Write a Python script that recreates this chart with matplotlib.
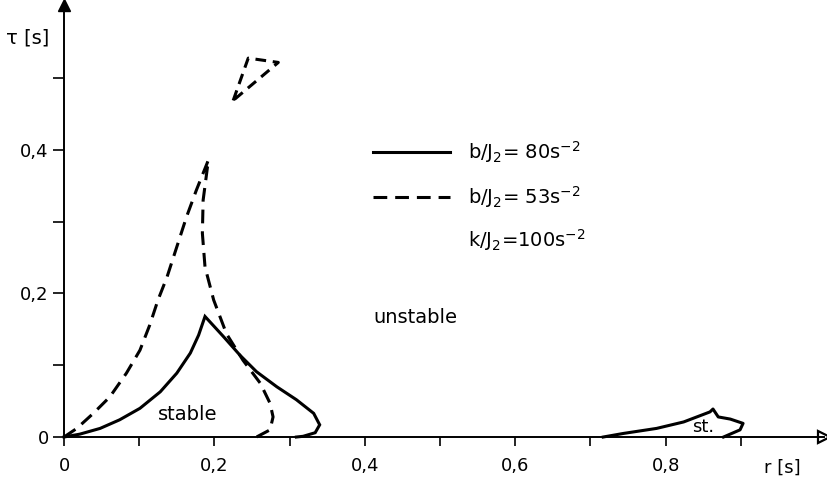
import matplotlib
matplotlib.use("Agg")
import matplotlib.pyplot as plt

# ---------- data ----------
# solid curve, b/J2 = 80 s^-2 (main stability lobe)
r_solid = [0.0, 0.021, 0.048, 0.074, 0.101, 0.128, 0.150, 0.168, 0.179,
           0.1875, 0.212, 0.234, 0.256, 0.283, 0.309, 0.332, 0.340,
           0.334, 0.318, 0.309]
tau_solid = [0.0, 0.004, 0.012, 0.024, 0.040, 0.063, 0.089, 0.117, 0.142,
             0.168, 0.140, 0.114, 0.091, 0.070, 0.052, 0.033, 0.017,
             0.006, 0.001, 0.0]

# dashed curve, b/J2 = 53 s^-2
r_dash = [0.0, 0.017, 0.039, 0.061, 0.083, 0.101, 0.114, 0.125, 0.137,
          0.150, 0.163, 0.176, 0.192,
          0.185, 0.184, 0.1875, 0.199, 0.216, 0.238, 0.261, 0.274,
          0.278, 0.274, 0.256]
tau_dash = [0.0, 0.012, 0.033, 0.056, 0.089, 0.121, 0.156, 0.191, 0.223,
            0.265, 0.307, 0.344, 0.386,
            0.330, 0.284, 0.237, 0.191, 0.144, 0.107, 0.075, 0.047,
            0.028, 0.010, 0.0]

# small dashed island at the top
r_island = [0.225, 0.245, 0.285, 0.225]
tau_island = [0.469, 0.528, 0.522, 0.469]

# second small stable lobe ("st.")
r_st = [0.717, 0.744, 0.788, 0.824, 0.859, 0.863, 0.870,
        0.886, 0.903, 0.899, 0.877]
tau_st = [0.0, 0.005, 0.012, 0.021, 0.035, 0.039, 0.028,
          0.025, 0.019, 0.010, 0.0]

x_major = [0, 0.2, 0.4, 0.6, 0.8]
x_major_labels = ["0", "0,2", "0,4", "0,6", "0,8"]
x_minor = [0.1, 0.3, 0.5, 0.7, 0.9]
y_major = [0, 0.2, 0.4]
y_major_labels = ["0", "0,2", "0,4"]
y_minor = [0.1, 0.3, 0.5]

legend_labels = [r"b/J$_2$= 80s$^{-2}$", r"b/J$_2$= 53s$^{-2}$",
                 r"k/J$_2$=100s$^{-2}$"]

# ---------- figure ----------
plt.rcParams["font.family"] = ["DejaVu Sans"]
plt.rcParams["mathtext.default"] = "regular"

fig = plt.figure(figsize=(8.28, 4.83), dpi=100)
ax = fig.add_axes([0.0773, 0.0952, 0.9173, 0.8944])
ax.set_xlim(0, 1.01)
ax.set_ylim(0, 0.602)

lw = 2.2
dash = (4.5, 2.6)
ax.plot(r_solid, tau_solid, color="black", lw=lw, clip_on=False,
        solid_joinstyle="miter")
ax.plot(r_dash, tau_dash, color="black", lw=lw, dashes=dash, clip_on=False)
ax.plot(r_island, tau_island, color="black", lw=lw, dashes=(3.5, 2.2),
        clip_on=False)
ax.plot(r_st, tau_st, color="black", lw=lw, clip_on=False)

# axes as arrows
for side in ["top", "right"]:
    ax.spines[side].set_visible(False)
for side in ["left", "bottom"]:
    ax.spines[side].set_linewidth(1.4)
ax.plot(1.01, 0, marker=">", color="black", ms=9, clip_on=False,
        markerfacecolor="white", markeredgewidth=1.6)
ax.plot(0, 0.602, marker="^", color="black", ms=9, clip_on=False)

ax.set_xticks(x_major)
ax.set_xticklabels(x_major_labels)
ax.set_xticks(x_minor, minor=True)
ax.set_yticks(y_major)
ax.set_yticklabels(y_major_labels)
ax.set_yticks(y_minor, minor=True)
ax.tick_params(axis="x", which="both", direction="out", length=6.5,
               width=1.2, pad=8, labelsize=13)
ax.tick_params(axis="y", which="both", direction="out", length=8,
               width=1.2, pad=3, labelsize=13)

# axis titles
ax.text(-0.048, 0.556, "τ [s]", fontsize=14, ha="center", va="center",
        clip_on=False)
ax.text(0.955, -0.043, "r [s]", fontsize=13, ha="center", va="center",
        clip_on=False)

# hand-made legend
ax.plot([0.411, 0.513], [0.397, 0.397], color="black", lw=lw)
ax.plot([0.411, 0.513], [0.334, 0.334], color="black", lw=lw, dashes=dash)
for i, lab in enumerate(legend_labels):
    ax.text(0.537, [0.397, 0.334, 0.274][i], lab, fontsize=14,
            ha="left", va="center")

# region labels
ax.text(0.411, 0.167, "unstable", fontsize=14, ha="left", va="center")
ax.text(0.125, 0.031, "stable", fontsize=14, ha="left", va="center")
ax.text(0.835, 0.014, "st.", fontsize=13, ha="left", va="center")

fig.savefig("out.png", dpi=100)
